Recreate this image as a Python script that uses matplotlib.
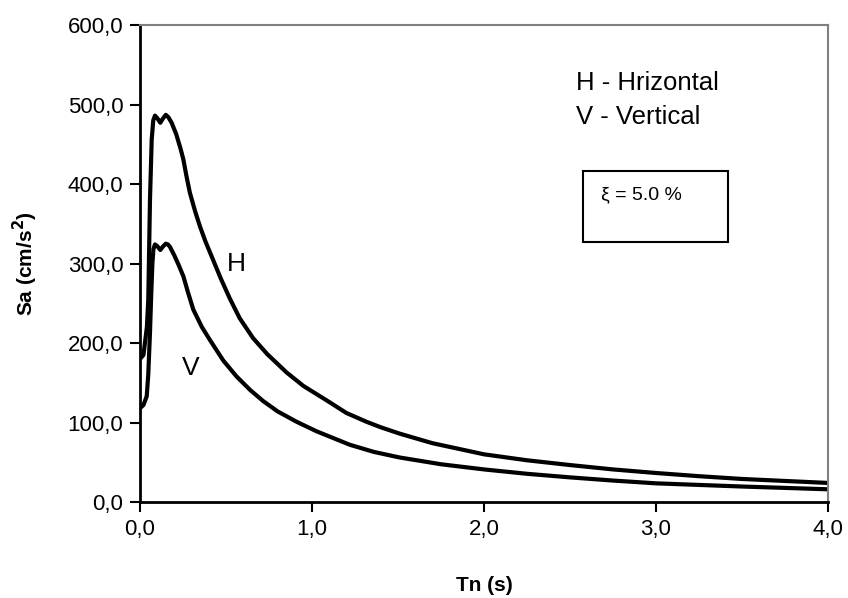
#!/usr/bin/env python3

import numpy as np
import matplotlib
matplotlib.use('Agg')
import matplotlib.pyplot as plt
from matplotlib.patches import Rectangle
from matplotlib.ticker import FuncFormatter

# periods (s) and spectral accelerations (cm/s2)
T_H = [0.0, 0.02, 0.04, 0.048, 0.058, 0.068, 0.077, 0.087, 0.1, 0.118, 0.132,
       0.15, 0.165, 0.184, 0.21, 0.235, 0.252, 0.27, 0.29, 0.32, 0.348, 0.38,
       0.426, 0.47, 0.522, 0.58, 0.658, 0.74, 0.852, 0.95, 1.084, 1.2, 1.316,
       1.4, 1.51, 1.7, 2.0, 2.25, 2.5, 2.75, 3.0, 3.25, 3.5, 3.75, 4.0]
Sa_H = [180, 185, 220, 254, 380, 456, 480, 486, 483, 477, 482,
        487, 484, 477, 463, 445, 431, 410, 389, 366, 347, 328,
        304, 281, 256, 231, 206, 186, 163, 146, 128, 112, 101,
        94, 86, 74, 60, 52.5, 46.5, 41, 36.5, 32.5, 29, 26.5, 24]

T_V = [0.0, 0.02, 0.039, 0.048, 0.058, 0.065, 0.072, 0.078, 0.087, 0.1, 0.118,
       0.132, 0.15, 0.162, 0.174, 0.2, 0.225, 0.252, 0.28, 0.31, 0.36, 0.406,
       0.484, 0.561, 0.64, 0.716, 0.8, 0.91, 1.026, 1.22, 1.36, 1.51, 1.75,
       2.0, 2.25, 2.5, 2.75, 3.0, 3.5, 4.0]
Sa_V = [118, 122, 133, 160, 213, 260, 300, 318, 324, 322, 317,
        321, 325, 324, 321, 310, 298, 284, 263, 242, 220, 204,
        178, 158, 141, 127, 114, 101, 89, 72, 63, 56, 47.5,
        41, 35.5, 31, 27, 23.5, 19.5, 16]

xticks = [0, 1, 2, 3, 4]
yticks = [0, 100, 200, 300, 400, 500, 600]

plt.rcParams['font.family'] = ['Liberation Sans', 'DejaVu Sans']

fig = plt.figure(figsize=(8.48, 5.98), dpi=100)
ax = fig.add_axes([0.1651, 0.1605, 0.8113, 0.7977])

ax.plot(T_H, Sa_H, color='black', lw=3.0, solid_joinstyle='round')
ax.plot(T_V, Sa_V, color='black', lw=3.0, solid_joinstyle='round')

ax.set_xlim(0, 4)
ax.set_ylim(0, 600)
ax.set_xticks(xticks)
ax.set_yticks(yticks)
comma = FuncFormatter(lambda v, p: '{:.1f}'.format(v).replace('.', ','))
ax.xaxis.set_major_formatter(comma)
ax.yaxis.set_major_formatter(comma)
ax.tick_params(direction='out', length=7, width=1.5, labelsize=16, pad=5)

for s in ['left', 'bottom']:
    ax.spines[s].set_linewidth(2)
    ax.spines[s].set_color('black')
for s in ['right', 'top']:
    ax.spines[s].set_linewidth(1.5)
    ax.spines[s].set_color('#808080')

ax.set_xlabel('Tn (s)', fontsize=15, fontweight='bold', va='center')
ax.set_ylabel('Sa (cm/s$^\\mathbf{2}$)', fontsize=15, fontweight='bold', va='center')
ax.xaxis.set_label_coords(0.5, -0.175)
ax.yaxis.set_label_coords(-0.166, 0.5)

ax.text(0.561, 300, 'H', fontsize=19, ha='center', va='center')
ax.text(0.294, 168, 'V', fontsize=19, ha='center', va='center')

ax.text(0.634, 0.878, 'H - Hrizontal', fontsize=18.5, transform=ax.transAxes, va='center')
ax.text(0.634, 0.808, 'V - Vertical', fontsize=18.5, transform=ax.transAxes, va='center')

ax.add_patch(Rectangle((0.644, 0.5457), 0.21, 0.149, transform=ax.transAxes,
                       fill=False, edgecolor='black', lw=1.5))
ax.text(0.67, 0.6436, '\u03be = 5.0 %', fontsize=14, transform=ax.transAxes, va='center')

plt.savefig('out.png', dpi=100)
